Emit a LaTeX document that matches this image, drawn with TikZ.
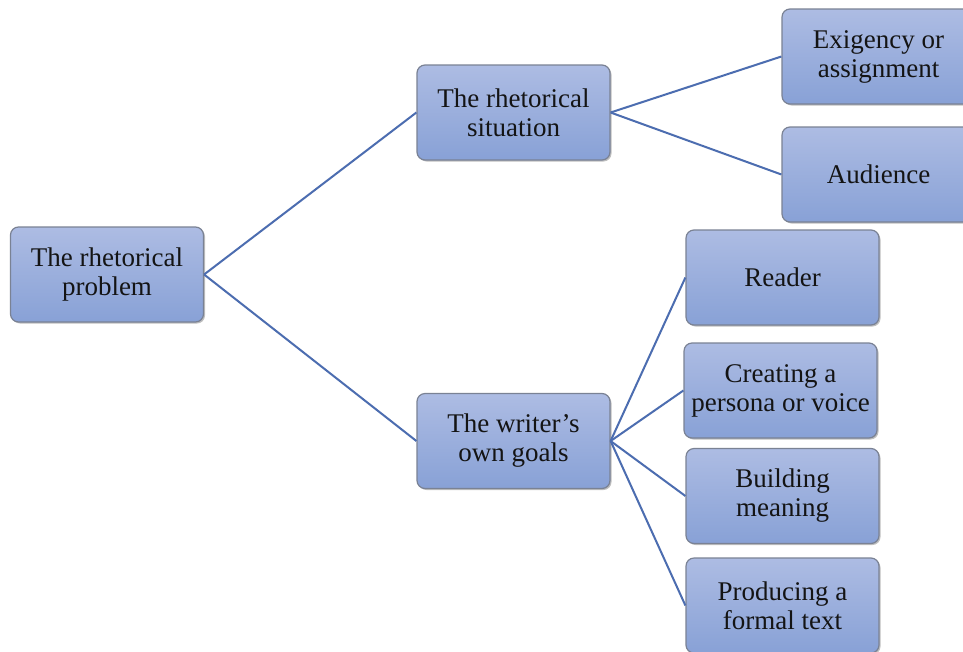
\documentclass[tikz,border=0pt]{standalone}
\usepackage{fontspec}
\setmainfont{Liberation Serif}
\usetikzlibrary{shadows}
\definecolor{boxtop}{HTML}{ADBCE3}
\definecolor{boxbot}{HTML}{88A1D6}
\definecolor{boxline}{HTML}{7A8294}
\definecolor{conn}{HTML}{4C6DB0}
\tikzset{
  box/.style={rectangle, rounded corners=8pt, draw=boxline, line width=1.2pt,
    top color=boxtop, bottom color=boxbot,
    minimum width=193pt, minimum height=95pt, inner sep=0pt,
    align=center, font=\fontsize{27}{29}\selectfont, text=black!92,
    drop shadow={shadow xshift=1.5pt, shadow yshift=-1.5pt, opacity=0.25, fill=black}},
  link/.style={draw=conn, line width=2pt}
}
\begin{document}
\begin{tikzpicture}[x=1pt,y=-1pt]
\useasboundingbox (0,0) rectangle (963,651);
\clip (0,0) rectangle (963,651);
\fill[white] (0,0) rectangle (963,651);
\node[box] (root) at (107,274.5) {The rhetorical\\problem};
\node[box] (sit) at (513.5,112.5) {The rhetorical\\situation};
\node[box] (goal) at (513.5,441) {The writer's\\own goals};
\node[box] (exi) at (878.5,56.5) {Exigency or\\assignment};
\node[box] (aud) at (878.5,174.5) {Audience};
\node[box] (rea) at (782.5,277.5) {Reader};
\node[box] (cre) at (780.5,390.5) {Creating a\\persona or voice};
\node[box] (bui) at (782.5,496) {Building\\meaning};
\node[box] (pro) at (782.5,605.5) {Producing a\\formal text};
\draw[link] (root.east) -- (sit.west);
\draw[link] (root.east) -- (goal.west);
\draw[link] (sit.east) -- (exi.west);
\draw[link] (sit.east) -- (aud.west);
\draw[link] (goal.east) -- (rea.west);
\draw[link] (goal.east) -- (cre.west);
\draw[link] (goal.east) -- (bui.west);
\draw[link] (goal.east) -- (pro.west);
\end{tikzpicture}
\end{document}
